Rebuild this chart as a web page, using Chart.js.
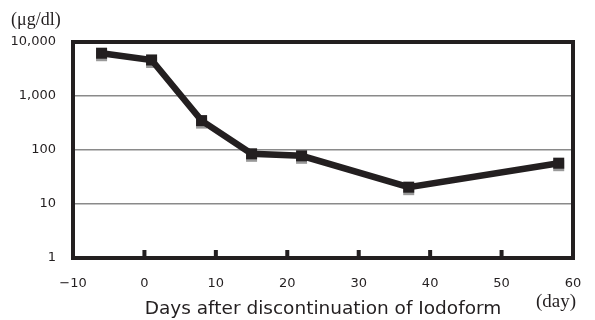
<!DOCTYPE html>
<html>
<head>
<meta charset="utf-8">
<script src="https://cdn.jsdelivr.net/npm/chart.js@4/dist/chart.umd.min.js"></script>
<style>
  html, body { margin: 0; padding: 0; background: #fff; }
  #wrap { width: 595px; height: 320px; }
</style>
</head>
<body>
<div id="wrap"><canvas id="chart" width="595" height="320"></canvas></div>
<script>
// Iodine level after stopping Iodoform (log scale)
const days = [-6, 1, 8, 15, 22, 37, 58];
const levels = [6200, 4650, 350, 85, 78, 20.5, 57];
const yTicks = [1, 10, 100, 1000, 10000];
const xTicks = [-10, 0, 10, 20, 30, 40, 50, 60];

const INK = '#231f20';
const SANS = '"DejaVu Sans", Roboto, sans-serif';

// frame around the plot area, inner tick marks, unit labels
const framePlugin = {
  id: 'frame',
  beforeDatasetsDraw(chart) {
    const { ctx, chartArea: a, scales } = chart;
    ctx.save();
    ctx.fillStyle = INK;
    xTicks.slice(1, -1).forEach((v) => {
      const x = scales.x.getPixelForValue(v);
      ctx.fillRect(x - 2, a.bottom - 8, 4, 8);
    });
    ctx.strokeStyle = INK;
    ctx.lineWidth = 4;
    ctx.strokeRect(a.left, a.top, a.right - a.left, a.bottom - a.top);
    ctx.restore();
  },
  afterDraw(chart) {
    const { ctx } = chart;
    ctx.save();
    ctx.fillStyle = INK;
    ctx.font = '18px "Liberation Serif", "DejaVu Serif", serif';
    ctx.textBaseline = 'alphabetic';
    ctx.textAlign = 'left';
    ctx.fillText('(\u03bcg/dl)', 11, 25);
    ctx.font = '19px "Liberation Serif", "DejaVu Serif", serif';
    ctx.fillText('(day)', 536, 307);
    ctx.restore();
  },
};

// grey drop shadow under the square markers only
const shadowPlugin = {
  id: 'shadow',
  beforeDatasetDraw(chart, args) {
    const ctx = chart.ctx;
    ctx.save();
    if (args.index === 1) {
      ctx.shadowColor = 'rgba(0,0,0,0.4)';
      ctx.shadowOffsetX = 0;
      ctx.shadowOffsetY = 2.5;
      ctx.shadowBlur = 0;
    }
  },
  afterDatasetDraw(chart) {
    chart.ctx.restore();
  },
};

const points = days.map((d, i) => ({ x: d, y: levels[i] }));

const config = {
  type: 'line',
  data: {
    datasets: [
      {
        data: points,
        borderColor: INK,
        borderWidth: 6.5,
        pointRadius: 0,
        tension: 0,
      },
      {
        data: points,
        showLine: false,
        backgroundColor: INK,
        borderColor: INK,
        pointStyle: 'rect',
        pointRadius: 7.8,
        pointBorderWidth: 0,
      },
    ],
  },
  options: {
    responsive: false,
    animation: false,
    layout: { padding: { top: 42, right: 22, left: 0, bottom: 0 } },
    plugins: {
      legend: { display: false },
      tooltip: { enabled: false },
    },
    scales: {
      x: {
        type: 'linear',
        min: -10,
        max: 60,
        afterBuildTicks: (s) => { s.ticks = xTicks.map((v) => ({ value: v })); },
        afterFit: (s) => { s.height = 62; },
        grid: { display: false },
        border: { display: false },
        ticks: {
          color: INK,
          padding: 10,
          maxRotation: 0,
          font: { family: SANS, size: 13 },
          callback: (v) => String(v).replace('-', '\u2212'),
        },
        title: {
          display: true,
          text: 'Days after discontinuation of Iodoform',
          color: INK,
          padding: { top: 8, bottom: 0 },
          font: { family: SANS, size: 18.5 },
        },
      },
      y: {
        type: 'logarithmic',
        min: 1,
        max: 10000,
        afterBuildTicks: (s) => { s.ticks = yTicks.map((v) => ({ value: v })); },
        afterFit: (s) => { s.width = 73; },
        grid: { color: '#8a8a8a', lineWidth: 1.5, drawTicks: false },
        border: { display: false },
        ticks: {
          color: INK,
          padding: 17,
          font: { family: SANS, size: 13 },
          callback: (v) => Number(v).toLocaleString('en-US'),
        },
      },
    },
  },
  plugins: [framePlugin, shadowPlugin],
};

new Chart(document.getElementById('chart'), config);
</script>
</body>
</html>
